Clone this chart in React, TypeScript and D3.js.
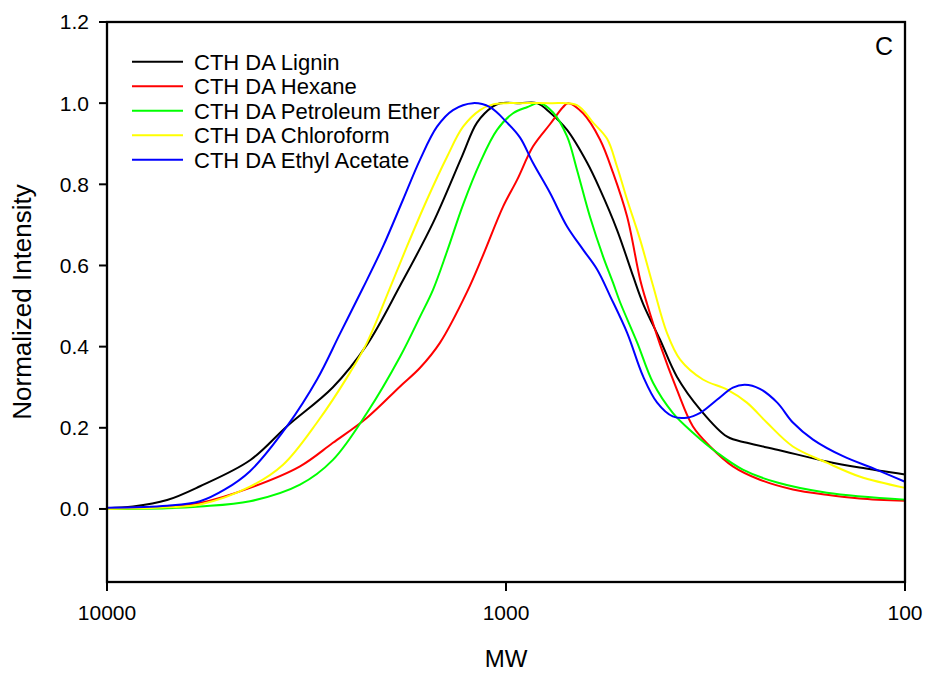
import React from "react";
import * as d3 from "d3";

const seriesNames = [
  "CTH DA Lignin",
  "CTH DA Hexane",
  "CTH DA Petroleum Ether",
  "CTH DA Chloroform",
  "CTH DA Ethyl Acetate",
];
const seriesColors = ["#000000", "#ff0000", "#00ff00", "#ffff00", "#0000ff"];

const ligninMW = [10000, 8606, 7069, 5846, 4381, 3538, 2715, 2230, 1843, 1524, 1289, 1182, 1078, 1035, 922, 836, 776, 703, 626, 581, 527, 480, 453, 411, 373, 326, 279, 249, 209, 157, 130, 100];
const ligninI = [0.002, 0.006, 0.022, 0.056, 0.12, 0.204, 0.30, 0.405, 0.55, 0.705, 0.869, 0.952, 0.992, 1.0, 1.0, 1.0, 0.977, 0.934, 0.853, 0.787, 0.688, 0.573, 0.505, 0.417, 0.326, 0.245, 0.178, 0.163, 0.146, 0.117, 0.102, 0.085];

const hexaneMW = [10000, 7069, 5846, 4381, 3283, 2715, 2230, 1843, 1642, 1463, 1252, 1142, 1017, 938, 856, 776, 720, 699, 641, 581, 539, 497, 461, 443, 411, 373, 340, 308, 270, 231, 191, 157, 130, 100];
const hexaneI = [0.002, 0.006, 0.015, 0.052, 0.105, 0.163, 0.225, 0.302, 0.348, 0.41, 0.535, 0.625, 0.745, 0.811, 0.893, 0.948, 0.99, 1.0, 0.975, 0.91, 0.828, 0.72, 0.565, 0.505, 0.405, 0.294, 0.203, 0.154, 0.105, 0.072, 0.048, 0.035, 0.026, 0.02];

const petrolMW = [10000, 7069, 5846, 4381, 3283, 2715, 2230, 1843, 1642, 1524, 1405, 1281, 1162, 1053, 960, 886, 822, 762, 703, 664, 616, 571, 539, 518, 469, 428, 382, 340, 296, 255, 209, 157, 100];
const petrolI = [0.0, 0.002, 0.006, 0.019, 0.06, 0.121, 0.237, 0.375, 0.474, 0.54, 0.635, 0.75, 0.853, 0.934, 0.975, 0.99, 1.0, 0.977, 0.918, 0.836, 0.72, 0.622, 0.557, 0.51, 0.41, 0.311, 0.237, 0.188, 0.139, 0.097, 0.065, 0.04, 0.023];

const chloroMW = [10000, 7069, 5846, 4381, 3620, 2976, 2460, 2230, 1953, 1771, 1578, 1405, 1281, 1162, 1078, 1000, 922, 776, 664, 605, 558, 527, 497, 461, 428, 395, 366, 321, 279, 249, 222, 191, 157, 130, 100];
const chloroI = [0.0, 0.004, 0.011, 0.055, 0.109, 0.213, 0.336, 0.41, 0.545, 0.647, 0.762, 0.868, 0.942, 0.983, 0.997, 1.0, 1.0, 1.0, 0.995, 0.952, 0.912, 0.844, 0.762, 0.663, 0.55, 0.434, 0.368, 0.319, 0.294, 0.262, 0.213, 0.154, 0.114, 0.08, 0.052];

const ethylMW = [10000, 7069, 5846, 5064, 4381, 3538, 2976, 2606, 2282, 2033, 1812, 1642, 1489, 1358, 1210, 1097, 994, 922, 856, 776, 703, 641, 591, 548, 497, 453, 418, 382, 352, 326, 296, 270, 252, 231, 209, 191, 170, 143, 118, 100];
const ethylI = [0.003, 0.008, 0.019, 0.048, 0.093, 0.204, 0.319, 0.432, 0.545, 0.647, 0.762, 0.861, 0.942, 0.983, 1.0, 0.99, 0.952, 0.915, 0.853, 0.779, 0.696, 0.639, 0.59, 0.524, 0.434, 0.326, 0.262, 0.228, 0.225, 0.237, 0.269, 0.299, 0.306, 0.296, 0.262, 0.213, 0.171, 0.13, 0.097, 0.067];

const xTicks = [10000, 1000, 100];
const yTicks = [0, 0.2, 0.4, 0.6, 0.8, 1.0, 1.2];
const xDomain = [10000, 100];
const yDomain = [-0.18, 1.2];

const seriesMW = [ligninMW, hexaneMW, petrolMW, chloroMW, ethylMW];
const seriesI = [ligninI, hexaneI, petrolI, chloroI, ethylI];

export default function App() {
  const W = 928, H = 673;
  const left = 107, right = 905, top = 22, bottom = 582;
  const x = d3.scaleLog().domain(xDomain).range([left, right]);
  const y = d3.scaleLinear().domain(yDomain).range([bottom, top]);
  const line = d3
    .line<[number, number]>()
    .x((d) => x(d[0]))
    .y((d) => y(d[1]))
    .curve(d3.curveCatmullRom.alpha(0.5));
  const font = "'Liberation Sans', Arial, sans-serif";
  const fmt = d3.format(".1f");

  return (
    <div style={{ position: "absolute", left: 0, top: 0 }}>
      <svg width={W} height={H} style={{ display: "block", background: "#fff" }} fontFamily={font}>
        <rect x={0} y={0} width={W} height={H} fill="#fff" />
        {seriesNames.map((name, i) => {
          const pts = seriesMW[i].map((m, j) => [m, seriesI[i][j]] as [number, number]);
          return (
            <path key={name} d={line(pts) || ""} fill="none" stroke={seriesColors[i]} strokeWidth={2} />
          );
        })}
        <rect x={left} y={top} width={right - left} height={bottom - top} fill="none" stroke="#000" strokeWidth={2.3} />
        {yTicks.map((t) => (
          <g key={"y" + t}>
            <line x1={left - 8} x2={left} y1={y(t)} y2={y(t)} stroke="#000" strokeWidth={2} />
            <text x={left - 18} y={y(t)} dy="0.35em" textAnchor="end" fontSize={21} fill="#000">
              {fmt(t)}
            </text>
          </g>
        ))}
        {xTicks.map((t) => (
          <g key={"x" + t}>
            <line x1={x(t)} x2={x(t)} y1={bottom} y2={bottom + 9} stroke="#000" strokeWidth={2} />
            <text x={x(t)} y={620} textAnchor="middle" fontSize={21} fill="#000">
              {String(t)}
            </text>
          </g>
        ))}
        <text x={(left + right) / 2} y={667} textAnchor="middle" fontSize={24} fill="#000">
          MW
        </text>
        <text
          transform={`translate(31, ${(top + bottom) / 2}) rotate(-90)`}
          textAnchor="middle"
          fontSize={26}
          fill="#000"
        >
          Normalized Intensity
        </text>
        <text x={893} y={55} textAnchor="end" fontSize={25} fill="#000">
          C
        </text>
        {seriesNames.map((name, i) => {
          const ly = 61.7 + i * 24.5;
          return (
            <g key={"lg" + name}>
              <line x1={132} x2={183} y1={ly} y2={ly} stroke={seriesColors[i]} strokeWidth={2} />
              <text x={194} y={ly} dy="0.36em" fontSize={22} fill="#000">
                {name}
              </text>
            </g>
          );
        })}
      </svg>
    </div>
  );
}
